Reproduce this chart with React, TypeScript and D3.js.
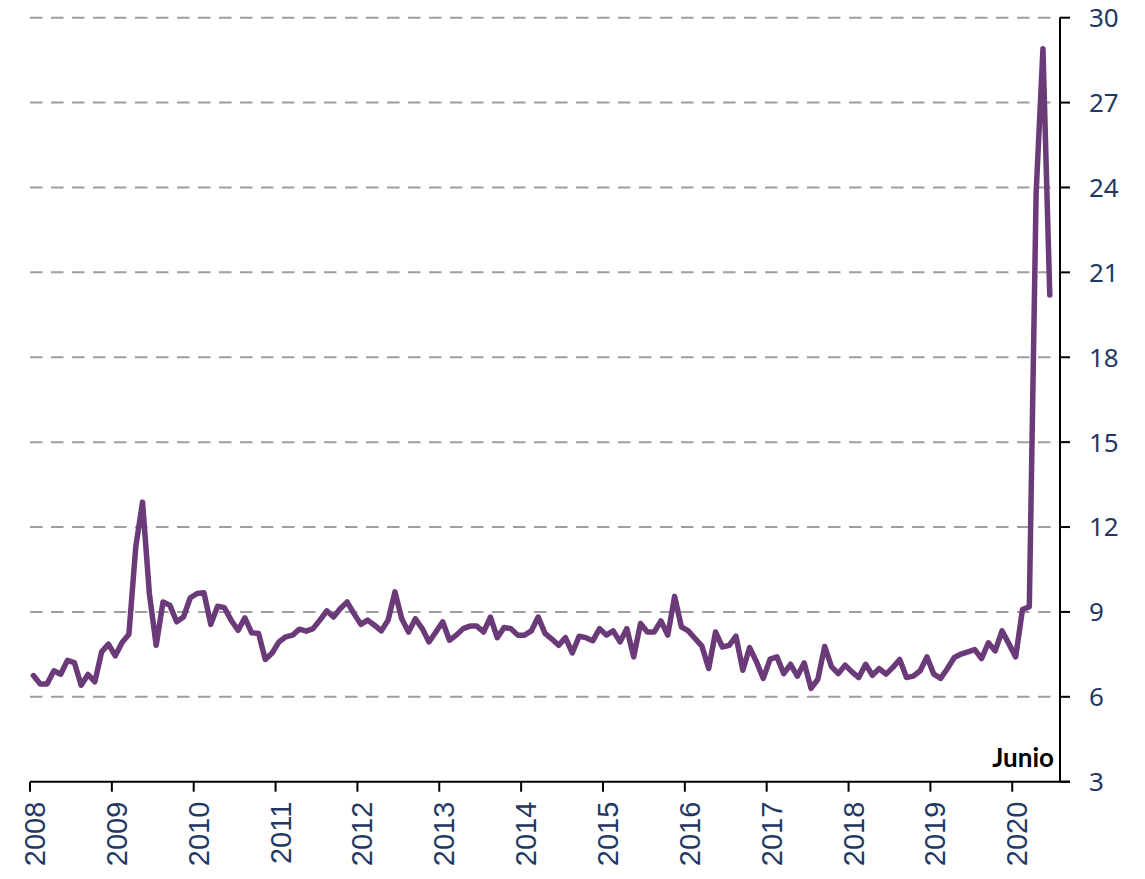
import React, { useEffect, useRef } from "react";
import * as d3 from "d3";

// Monthly values, Jan 2008 .. Jun 2020
const values: number[] = [
  // 2008
  6.75, 6.45, 6.45, 6.92, 6.8, 7.29, 7.21, 6.41, 6.79, 6.53, 7.59, 7.86,
  // 2009
  7.45, 7.92, 8.21, 11.29, 12.88, 9.65, 7.82, 9.35, 9.24, 8.65, 8.82, 9.5,
  // 2010
  9.65, 9.68, 8.56, 9.2, 9.15, 8.7, 8.35, 8.79, 8.26, 8.24, 7.32, 7.55,
  // 2011
  7.94, 8.12, 8.18, 8.39, 8.32, 8.41, 8.71, 9.04, 8.82, 9.12, 9.35, 8.94,
  // 2012
  8.56, 8.71, 8.53, 8.33, 8.71, 9.71, 8.76, 8.29, 8.76, 8.41, 7.94, 8.29,
  // 2013
  8.65, 8.0, 8.18, 8.41, 8.5, 8.5, 8.29, 8.82, 8.09, 8.45, 8.41, 8.18,
  // 2014
  8.18, 8.33, 8.82, 8.24, 8.04, 7.82, 8.09, 7.55, 8.14, 8.09, 7.98, 8.41,
  // 2015
  8.18, 8.33, 7.94, 8.41, 7.41, 8.59, 8.29, 8.29, 8.68, 8.18, 9.55, 8.47,
  // 2016
  8.33, 8.06, 7.79, 7.0, 8.29, 7.76, 7.82, 8.14, 6.94, 7.74, 7.24, 6.65,
  // 2017
  7.33, 7.41, 6.82, 7.15, 6.73, 7.2, 6.3, 6.62, 7.78, 7.07, 6.82, 7.12,
  // 2018
  6.88, 6.68, 7.15, 6.76, 7.0, 6.8, 7.04, 7.32, 6.68, 6.73, 6.92, 7.41,
  // 2019
  6.8, 6.65, 7.0, 7.39, 7.51, 7.59, 7.67, 7.35, 7.91, 7.62, 8.33, 7.88,
  // 2020 (Jan-Jun)
  7.41, 9.08, 9.18, 23.8, 28.9, 20.2,
];

const years: string[] = [
  "2008", "2009", "2010", "2011", "2012", "2013", "2014",
  "2015", "2016", "2017", "2018", "2019", "2020",
];

const yTicks: number[] = [3, 6, 9, 12, 15, 18, 21, 24, 27, 30];
const endLabel = "Junio";

const W = 1145;
const H = 879;
const LEFT = 30;
const RIGHT = 1060;
const TOP = 17.7;
const BOTTOM = 781.7;
const SLOTS = 151;

export default function App() {
  const ref = useRef<SVGSVGElement | null>(null);

  useEffect(() => {
    document.body.style.margin = "0";
    const svg = d3.select(ref.current);
    svg.selectAll("*").remove();

    const x = d3.scaleLinear().domain([0, SLOTS]).range([LEFT, RIGHT]);
    const y = d3.scaleLinear().domain([3, 30]).range([BOTTOM, TOP]);

    // gridlines
    svg
      .append("g")
      .selectAll("line")
      .data(yTicks.filter((t) => t > 3))
      .join("line")
      .attr("x1", LEFT)
      .attr("x2", RIGHT)
      .attr("y1", (d) => y(d))
      .attr("y2", (d) => y(d))
      .attr("stroke", "#9e9e9e")
      .attr("stroke-width", 2)
      .attr("stroke-dasharray", "12.5,8.5");

    // x axis line
    svg
      .append("line")
      .attr("x1", LEFT)
      .attr("x2", RIGHT + 10)
      .attr("y1", BOTTOM)
      .attr("y2", BOTTOM)
      .attr("stroke", "#000")
      .attr("stroke-width", 2);

    // x ticks
    svg
      .append("g")
      .selectAll("line")
      .data(years)
      .join("line")
      .attr("x1", (_, i) => x(i * 12))
      .attr("x2", (_, i) => x(i * 12))
      .attr("y1", BOTTOM)
      .attr("y2", BOTTOM + 10)
      .attr("stroke", "#000")
      .attr("stroke-width", 2);

    // x labels
    svg
      .append("g")
      .selectAll("text")
      .data(years)
      .join("text")
      .attr("transform", (_, i) => `translate(${x(i * 12) + 15},${BOTTOM + 20}) rotate(-90)`)
      .attr("text-anchor", "end")
      .attr("font-family", "'Liberation Sans', Arial, sans-serif")
      .attr("font-size", 29)
      .attr("fill", "#1f3864")
      .text((d) => d);

    // right axis
    svg
      .append("line")
      .attr("x1", RIGHT)
      .attr("x2", RIGHT)
      .attr("y1", TOP)
      .attr("y2", BOTTOM)
      .attr("stroke", "#000")
      .attr("stroke-width", 2);

    svg
      .append("g")
      .selectAll("line")
      .data(yTicks)
      .join("line")
      .attr("x1", RIGHT)
      .attr("x2", RIGHT + 10)
      .attr("y1", (d) => y(d))
      .attr("y2", (d) => y(d))
      .attr("stroke", "#000")
      .attr("stroke-width", 2);

    svg
      .append("g")
      .selectAll("text")
      .data(yTicks)
      .join("text")
      .attr("x", RIGHT + 29)
      .attr("y", (d) => y(d))
      .attr("dy", "0.36em")
      .attr("text-anchor", "start")
      .attr("font-family", "'Noto Sans', sans-serif")
      .attr("font-size", 26)
      .attr("fill", "#1f3864")
      .text((d) => d);

    // series line
    const line = d3
      .line<number>()
      .x((_, i) => x(i + 0.5))
      .y((d) => y(d));

    svg
      .append("path")
      .datum(values)
      .attr("d", line)
      .attr("fill", "none")
      .attr("stroke", "#6b3a78")
      .attr("stroke-width", 5.5)
      .attr("stroke-linejoin", "round")
      .attr("stroke-linecap", "round");

    // end label
    svg
      .append("text")
      .attr("x", RIGHT - 6)
      .attr("y", 767)
      .attr("text-anchor", "end")
      .attr("font-family", "Lato, 'Noto Sans', sans-serif")
      .attr("font-weight", "bold")
      .attr("font-size", 26)
      .attr("fill", "#000")
      .text(endLabel);
  }, []);

  return (
    <svg
      ref={ref}
      width={W}
      height={H}
      style={{ position: "absolute", left: 0, top: 0, background: "#fff" }}
    />
  );
}
